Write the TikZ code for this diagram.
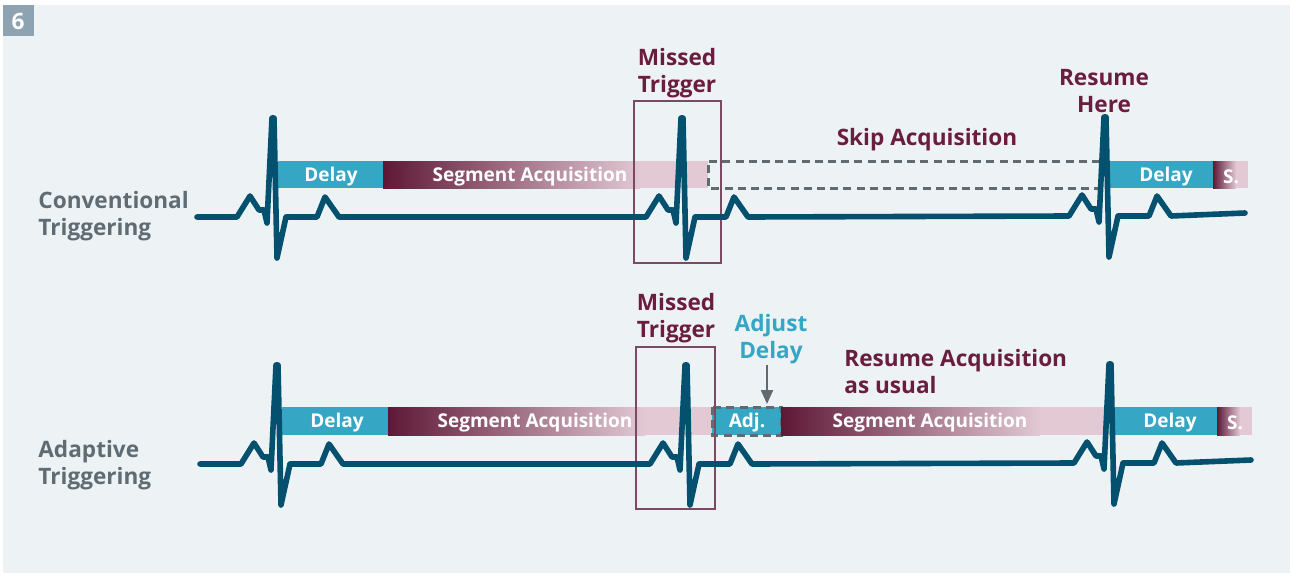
\documentclass[tikz,border=0pt]{standalone}
\usepackage{fontspec}
\setmainfont{Open Sans}
\usetikzlibrary{arrows.meta}
\definecolor{bgc}{HTML}{EDF2F5}
\definecolor{numc}{HTML}{8DA3B1}
\definecolor{ecgc}{HTML}{03506F}
\definecolor{cyanc}{HTML}{36A6C5}
\definecolor{maroonc}{HTML}{5E1836}
\definecolor{pinkc}{HTML}{E2C9D4}
\definecolor{redtext}{HTML}{6A1D3E}
\definecolor{graytext}{HTML}{5F6C74}
\definecolor{dashc}{HTML}{5F6B70}
\definecolor{boxc}{HTML}{7B4A62}
\tikzset{>={Triangle[length=7pt,width=6pt]}}
% one heart beat, from the end of the flat line to the next flat line
\newcommand\ecgbeat{-- ++(13,-21) -- ++(9,14) -- ++(5,0) -- ++(3,13)
    -- ++(5,-105) -- ++(2,0) -- ++(3,140) -- ++(9,-41) -- ++(31,0) -- ++(8,-20) -- ++(14,20)}
\newcommand\delaybar[4]{
    \fill[cyanc] (#1,#2) rectangle (#3,#4);
}
\newcommand\segbar[5]{
    \fill[pinkc] (#1,#2) rectangle (#3,#4);
    \shade[left color=maroonc,right color=pinkc] (#1,#2) rectangle (#5,#4);
}

\begin{document}
\begin{tikzpicture}[x=0.5pt,y=-0.5pt,
        ecg/.style={draw=ecgc,line width=2.8pt,line join=round,line cap=round},
        bartext/.style={text=white,inner sep=0pt,font=\bfseries\fontsize{9.5}{12}\selectfont},
        label/.style={inner sep=0pt,align=center,font=\bfseries\fontsize{11.3}{13.5}\selectfont},
        missed/.style={draw=boxc,line width=0.8pt},
        skipped/.style={draw=dashc,line width=1.5pt,dash pattern=on 4pt off 2.6pt}]
    \useasboundingbox (0,0) rectangle (1290,573);
    \fill[bgc] (3,5) rectangle (1290,573);
    \fill[numc] (3,5) rectangle (34,36);
    \node[label,text=white] (num) at (18,21) {6};

    % conventional
    \node[label,align=left,anchor=west,text=graytext] (conv) at (38,216) {Conventional\\Triggering};
    \delaybar{278}{161}{383}{188}
    \segbar{383}{161}{708}{188}{640}
    \draw[skipped] (1100,161) -- (708,161) -- (708,188) -- (1100,188);
    \delaybar{1105}{161}{1213}{188}
    \segbar{1213}{161}{1248}{188}{1236}
    \node[bartext] (delay1) at (331,177) {Delay};
    \node[bartext] (seg1) at (530,177) {Segment Acquisition};
    \node[bartext] (delay2) at (1166,177) {Delay};
    \node[bartext] (s1) at (1231,177) {S.};
    \draw[missed] (634,101) rectangle (721,263);
    \node[label,text=redtext] (miss1) at (677,73) {Missed\\Trigger};
    \node[label,text=redtext] (skip) at (927,140) {Skip Acquisition};
    \node[label,text=redtext] (resume) at (1104,91) {Resume\\Here};
    \draw[ecg] (197,217) -- (237,217) \ecgbeat -- (646,217) \ecgbeat
        -- (1069,216) \ecgbeat -- (1245,213);

    % adaptive
    \node[label,align=left,anchor=west,text=graytext] (adapt) at (38,465) {Adaptive\\Triggering};
    \delaybar{282}{407}{388}{435}
    \segbar{388}{407}{712}{435}{645}
    \delaybar{712}{407}{781}{435}
    \draw[skipped] (712,407) rectangle (781,435);
    \segbar{781}{407}{1117}{435}{1040}
    \delaybar{1112}{407}{1217}{435}
    \segbar{1217}{407}{1252}{435}{1240}
    \node[bartext] (delay3) at (337,423) {Delay};
    \node[bartext] (seg2) at (535,423) {Segment Acquisition};
    \node[bartext] (adj) at (747,423) {Adj.};
    \node[bartext] (seg3) at (930,423) {Segment Acquisition};
    \node[bartext] (delay4) at (1170,423) {Delay};
    \node[bartext] (s2) at (1235,423) {S.};
    \draw[missed] (636,347) rectangle (715,509);
    \node[label,text=redtext] (miss2) at (676,318) {Missed\\Trigger};
    \node[label,text=cyanc] (adjust) at (771,339) {Adjust\\Delay};
    \node[label,align=left,anchor=west,text=redtext] (usual) at (844,372) {Resume Acquisition\\as usual};
    \coordinate (adjtip) at (767,404);
    \draw[->,dashc,line width=1.1pt] (adjust.south -| adjtip) ++(0,1) -- (adjtip);
    \draw[ecg] (200,464) -- (241,464) \ecgbeat -- (650,464) \ecgbeat
        -- (1074,463) \ecgbeat -- (1251,460);
\end{tikzpicture}
\end{document}
